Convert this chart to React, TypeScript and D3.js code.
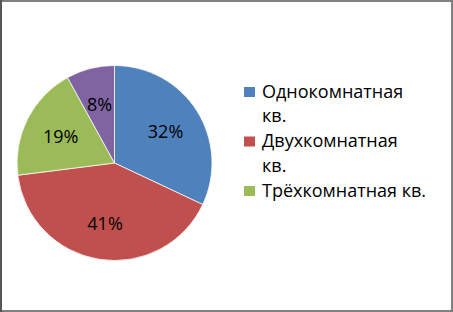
import React from "react";
import * as d3 from "d3";

const categories = ["Однокомнатная кв.", "Двухкомнатная кв.", "Трёхкомнатная кв.", "Четырёхкомнатная кв."];
const values = [32, 41, 19, 8];
const colors = ["#4F81BD", "#C0504D", "#9BBB59", "#8064A2"];
const legendLines = [["Однокомнатная", "кв."], ["Двухкомнатная", "кв."], ["Трёхкомнатная кв."]];

const W = 453;
const H = 312;

export default function App() {
  const cx = 114.5;
  const cy = 163;
  const R = 97.5;
  const pie = d3.pie<number>().sort(null).value((d) => d);
  const arcs = pie(values);
  const arc = d3.arc<d3.PieArcDatum<number>>().innerRadius(0).outerRadius(R);
  const labelArc = d3.arc<d3.PieArcDatum<number>>().innerRadius(R * 0.62).outerRadius(R * 0.62);
  const total = d3.sum(values);
  const font = "'Open Sans', sans-serif";

  let lineIdx = 0;
  const lineH = 24.75;
  const legendY0 = 97.5;

  return (
    <svg width={W} height={H} style={{ position: "fixed", left: 0, top: 0, background: "#fff" }}>
      <rect x={1} y={1} width={W - 2} height={H - 2} fill="#fff" stroke="#808080" strokeWidth={2} />
      <line x1={1} y1={0} x2={1} y2={H} stroke="#555" strokeWidth={2} />
      <g transform={`translate(${cx},${cy})`}>
        {arcs.map((a, i) => (
          <path key={i} d={arc(a) || ""} fill={colors[i]} stroke="#fff" strokeWidth={0.75} />
        ))}
        {arcs.map((a, i) => {
          const [x, y] = labelArc.centroid(a);
          return (
            <text key={i} x={x} y={y} textAnchor="middle" dominantBaseline="central" fontFamily={font} fontSize={18} fill="#000">
              {`${Math.round((values[i] / total) * 100)}%`}
            </text>
          );
        })}
      </g>
      <g>
        {legendLines.map((lines, i) => {
          const y0 = legendY0 + lineIdx * lineH;
          const el = (
            <g key={i}>
              <rect x={244} y={y0 - 10.5} width={11} height={10} fill={colors[i]} />
              {lines.map((t, j) => (
                <text key={j} x={262} y={y0 + j * lineH} fontFamily={font} fontSize={18} fill="#000">
                  {t}
                </text>
              ))}
            </g>
          );
          lineIdx += lines.length;
          return el;
        })}
      </g>
    </svg>
  );
}
